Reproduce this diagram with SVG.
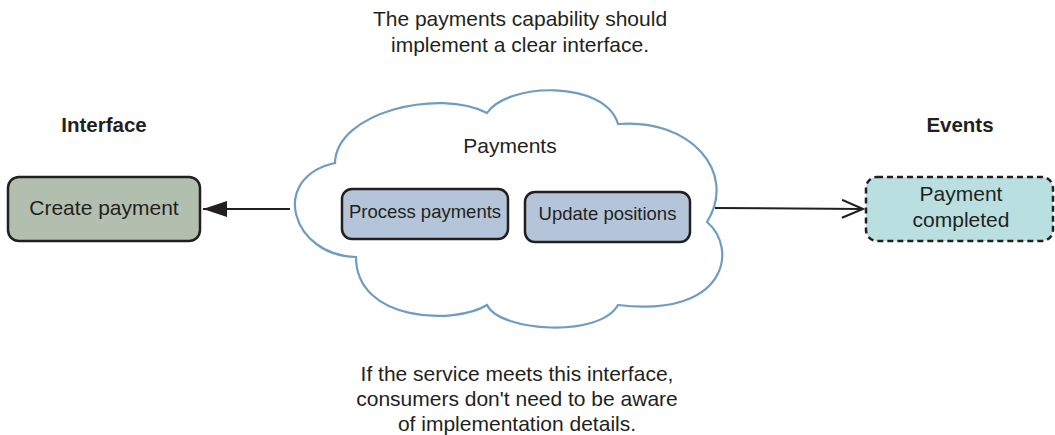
<svg xmlns="http://www.w3.org/2000/svg" width="1055" height="435" viewBox="0 0 1055 435">
  <defs>
    <style>
      text { font-family: "Liberation Sans", Arial, sans-serif; fill: #231f20; }
      .t21 { font-size: 21px; }
      .t18 { font-size: 18.5px; }
      .bold { font-size: 20.5px; font-weight: bold; }
      .box { stroke: #231f20; stroke-width: 2.5; }
      .cloud { fill: #ffffff; stroke: #6f9cc0; stroke-width: 2.2; }
      .conn { stroke: #231f20; stroke-width: 2; fill: none; }
    </style>
    <marker id="filled" viewBox="0 0 24 16" refX="24" refY="8" markerWidth="24" markerHeight="16" markerUnits="userSpaceOnUse" orient="auto">
      <path d="M0,0 L24,8 L0,16 Z" fill="#231f20"/>
    </marker>
    <marker id="open" viewBox="0 0 24 20" refX="22" refY="10" markerWidth="24" markerHeight="20" markerUnits="userSpaceOnUse" orient="auto">
      <path d="M1,1 L22,10 L1,19" fill="none" stroke="#231f20" stroke-width="2.2"/>
    </marker>
  </defs>

  <g id="caption-top">
    <text class="t21" x="520" y="26" text-anchor="middle">The payments capability should</text>
    <text class="t21" x="520" y="52" text-anchor="middle">implement a clear interface.</text>
  </g>

  <g id="label-interface">
    <text class="bold" x="104" y="132" text-anchor="middle">Interface</text>
  </g>
  <g id="label-events">
    <text class="bold" x="960" y="132" text-anchor="middle">Events</text>
  </g>

  <g id="connectors">
    <line class="conn" x1="290" y1="209" x2="203" y2="209" marker-end="url(#filled)"/>
    <line class="conn" x1="715" y1="208" x2="863" y2="209" marker-end="url(#open)"/>
  </g>

  <g id="payments-cloud">
    <path class="cloud" d="M335,163 C336,112 440,88 487,113 C508,82 605,80 618,124 C690,118 738,172 707,222 C738,248 728,318 618,305 C600,338 500,332 487,305 C455,325 356,322 356,257 C292,256 268,178 335,163 Z"/>
    <text class="t21" x="510" y="153" text-anchor="middle">Payments</text>
  </g>

  <g id="create-payment">
    <rect class="box" x="8" y="177" width="192" height="64" rx="11" fill="#b2bfaf"/>
    <text class="t21" x="104" y="215" text-anchor="middle">Create payment</text>
  </g>

  <g id="process-payments">
    <rect class="box" x="342" y="189" width="166" height="50" rx="10" fill="#b4c5d9"/>
    <text class="t18" x="425" y="218" text-anchor="middle">Process payments</text>
  </g>

  <g id="update-positions">
    <rect class="box" x="525" y="192" width="165" height="50" rx="10" fill="#b4c5d9"/>
    <text class="t18" x="607.5" y="220" text-anchor="middle">Update positions</text>
  </g>

  <g id="payment-completed">
    <rect class="box" x="866" y="177" width="187" height="64" rx="11" fill="#b9dfe0" stroke-dasharray="6 4"/>
    <text class="t21" x="961" y="201" text-anchor="middle">Payment</text>
    <text class="t21" x="961" y="227" text-anchor="middle">completed</text>
  </g>

  <g id="caption-bottom">
    <text class="t21" x="517" y="381" text-anchor="middle">If the service meets this interface,</text>
    <text class="t21" x="517" y="406" text-anchor="middle">consumers don't need to be aware</text>
    <text class="t21" x="517" y="431" text-anchor="middle">of implementation details.</text>
  </g>
</svg>
